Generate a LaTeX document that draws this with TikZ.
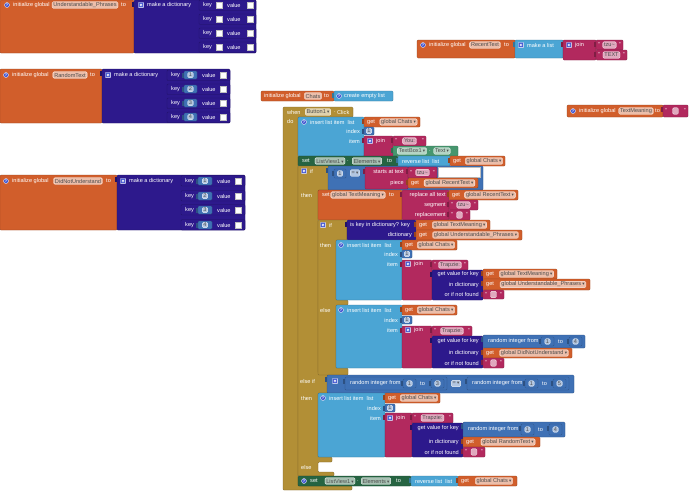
\documentclass[tikz,border=0pt]{standalone}
\usepackage{fontspec}
\setmainfont{Liberation Sans}
\newfontfamily\symfont{DejaVu Sans}

\definecolor{varc}{RGB}{209,94,43}
\definecolor{dictc}{RGB}{45,25,140}
\definecolor{listc}{RGB}{75,165,212}
\definecolor{textc}{RGB}{178,41,94}
\definecolor{ctrlc}{RGB}{178,143,54}
\definecolor{mathc}{RGB}{63,113,181}
\definecolor{setc}{RGB}{38,100,66}
\definecolor{compc}{RGB}{70,150,110}
\definecolor{iconc}{RGB}{70,90,210}

\newcommand{\blkfont}{\fontsize{5.6}{6.5}\selectfont}
\newcommand{\ddm}{\hspace{1.2pt}{\symfont\fontsize{4.5}{5}\selectfont\char"25BE}}

\tikzset{
  blk/.style={fill=#1, draw=#1!72!black, line width=0.35pt, rounded corners=1pt},
  txt/.style={text=white, font=\blkfont, inner sep=0pt, anchor=west},
  rtxt/.style={txt, anchor=east},
  fld/.style={font=\blkfont, text=black!70, fill=white, fill opacity=0.6, text opacity=1,
    draw=white, draw opacity=0.9, line width=0.3pt, rounded corners=1.3pt,
    inner xsep=1.4pt, inner ysep=0.5pt, minimum height=6.6pt},
  hole/.style={fill=white, draw=black!25, line width=0.3pt},
}

% value block with its plug on the left
\newcommand{\vblk}[5]{%
  \fill[#1!72!black] (#2-2.4,#3+2.2) rectangle (#2+0.3,#3+7.2);
  \draw[blk=#1] (#2,#3) rectangle (#4,#5);}
\newcommand{\qicon}[2]{%
  \filldraw[fill=iconc, draw=white, line width=0.3pt] (#1,#2) circle (2.5);
  \node[font=\fontsize{3.8}{4}\selectfont\bfseries, text=white, inner sep=0pt] at (#1,#2) {?};}
\newcommand{\gicon}[2]{%
  \filldraw[fill=iconc, draw=white, line width=0.3pt, rounded corners=0.6pt] (#1-2.6,#2-2.6) rectangle (#1+2.6,#2+2.6);
  \draw[white, line width=0.5pt] (#1,#2) circle (1.1);}
\newcommand{\getv}[5]{%
  \vblk{varc}{#1}{#2}{#3}{#4}
  \node[txt] at (#1+3,{(#2+#4)/2}) {get};
  \node[fld] at ({(#1+13+#3)/2},{(#2+#4)/2}) {#5\ddm};}
\newcommand{\strv}[5]{%
  \vblk{textc}{#1}{#2}{#3}{#4}
  \node[txt] at (#1+2,{(#2+#4)/2}) {"};
  \node[rtxt] at (#3-2,{(#2+#4)/2}) {"};
  \node[fld] at ({(#1+#3)/2},{(#2+#4)/2}) {#5};}
\newcommand{\numv}[5]{%
  \vblk{mathc}{#1}{#2}{#3}{#4}
  \node[fld, minimum height=5.6pt, inner xsep=1.2pt] at ({(#1+#3)/2},{(#2+#4)/2}) {#5};}
\newcommand{\randv}[5]{%
  \vblk{mathc}{#1}{#2}{#1+102}{#3}
  \node[txt] at (#1+5,{(#2+#3)/2}) {random integer from};
  \numv{#1+58}{#2+2}{#1+71}{#3-2}{#4}
  \node[txt] at (#1+75,{(#2+#3)/2}) {to};
  \numv{#1+86}{#2+2}{#1+99}{#3-2}{#5}}

\begin{document}
\begin{tikzpicture}[x=1pt,y=-1pt]
\useasboundingbox[fill=white] (0,0) rectangle (690,491);

% Understandable_Phrases
\draw[blk=varc] (0,0) rectangle (134,53);
\qicon{7}{5}
\node[txt] at (13,5) {initialize global};
\node[fld] at (85,5) {Understandable\_Phrases};
\node[txt] at (121,5) {to};
\vblk{dictc}{134}{0}{256}{53}
\gicon{141}{5}
\node[txt] at (147,5) {make a dictionary};
\foreach \y in {5,19,33,47}{
  \draw[blk=dictc] (199,\y-5) rectangle (256,\y+5.5);
  \node[txt] at (203,\y) {key};
  \draw[hole] (216,\y-3.2) rectangle (222,\y+3.2);
  \node[txt] at (227,\y) {value};
  \draw[hole] (247,\y-3.2) rectangle (253,\y+3.2);
}

% RandomText
\draw[blk=varc] (0,69) rectangle (102,123);
\qicon{6}{75}
\node[txt] at (12,75) {initialize global};
\node[fld] at (70,75) {RandomText};
\node[txt] at (90,75) {to};
\vblk{dictc}{102}{69}{230}{123}
\gicon{108}{75}
\node[txt] at (114,75) {make a dictionary};
\foreach \y/\k in {75/1,89/2,103/3,117/4}{
  \draw[blk=dictc] (167,\y-5) rectangle (230,\y+5.5);
  \node[txt] at (171,\y) {key};
  \numv{184}{\y-4}{197}{\y+4}{\k}
  \node[txt] at (202,\y) {value};
  \draw[hole] (220,\y-3.2) rectangle (226,\y+3.2);
}

% DidNotUnderstand
\draw[blk=varc] (0,175) rectangle (117,230);
\qicon{6}{181}
\node[txt] at (12,181) {initialize global};
\node[fld] at (78,181) {DidNotUnderstand};
\node[txt] at (106,181) {to};
\vblk{dictc}{117}{175}{245}{230}
\gicon{123}{181}
\node[txt] at (129,181) {make a dictionary};
\foreach \y/\k in {181/1,196/2,210/3,225/4}{
  \draw[blk=dictc] (181,\y-5.5) rectangle (245,\y+5);
  \node[txt] at (185,\y) {key};
  \numv{198}{\y-4}{212}{\y+4}{\k}
  \node[txt] at (217,\y) {value};
  \draw[hole] (235,\y-3.2) rectangle (241,\y+3.2);
}

% RecentText
\draw[blk=varc] (417,40) rectangle (515,58);
\qicon{423}{45}
\node[txt] at (429,45) {initialize global};
\node[fld] at (485,45) {RecentText};
\node[txt] at (504,45) {to};
\vblk{listc}{515}{40}{563}{58}
\gicon{521}{45}
\node[txt] at (527,45) {make a list};
\vblk{textc}{563}{40}{596}{60}
\gicon{569}{45}
\node[txt] at (575,45) {join};
\strv{596}{40}{623}{50}{tzu\textasciitilde}
\strv{596}{50}{627}{60}{TEXT}

% TextMeaning
\draw[blk=varc] (567,105) rectangle (663,117);
\qicon{573}{111}
\node[txt] at (579,111) {initialize global};
\node[fld] at (636,111) {TextMeaning};
\node[txt] at (655,111) {to};
\strv{663}{105}{688}{117}{\phantom{n}}

% Chats
\draw[blk=varc] (261,91) rectangle (334,101);
\node[txt] at (264,96) {initialize global};
\node[fld] at (313,96) {Chats};
\node[txt] at (324,96) {to};
\vblk{listc}{334}{91}{393}{101}
\qicon{339}{96}
\node[txt] at (344,96) {create empty list};

% when Button1.Click
\draw[blk=ctrlc] (283,107) -- (353,107) -- (353,117) -- (298,117) -- (298,486)
  -- (352,486) -- (352,490) -- (283,490) -- cycle;
\node[txt] at (287,112) {when};
\node[fld] at (318,112) {Button1\ddm};
\node[txt] at (334,112) {.};
\node[txt] at (337,112) {Click};
\node[txt] at (287,121) {do};

\draw[blk=listc] (298,117) rectangle (364,156);
\qicon{304}{122}
\node[txt] at (310,122) {insert list item \ list};
\node[rtxt] at (360,131) {index};
\node[rtxt] at (360,141) {item};
\getv{364}{117}{420}{127}{global Chats}
\numv{364}{127}{374}{135}{1}
\vblk{textc}{364}{136}{393}{157}
\gicon{370}{141}
\node[txt] at (376,141) {join};
\strv{393}{136}{426}{146}{You:}
\vblk{compc}{393}{146}{458}{156}
\node[fld] at (412,151) {TextBox1\ddm};
\node[txt] at (429,151) {.};
\node[fld] at (442,151) {Text\ddm};

\draw[blk=setc] (298,156) rectangle (398,166);
\node[txt] at (302,161) {set};
\node[fld] at (330,161) {ListView1\ddm};
\node[txt] at (347,161) {.};
\node[fld] at (367,161) {Elements\ddm};
\node[txt] at (387,161) {to};
\vblk{listc}{398}{156}{450}{166}
\node[txt] at (402,161) {reverse list \ list};
\getv{450}{156}{505}{166}{global Chats}

% if / else if / else
\draw[blk=ctrlc] (298,166) -- (330,166) -- (330,190) -- (318,190) -- (318,373) -- (330,373)
  -- (330,393) -- (318,393) -- (318,457) -- (332,457) -- (332,462) -- (318,462)
  -- (318,472) -- (334,472) -- (334,476) -- (298,476) -- cycle;
\gicon{304}{171}
\node[txt] at (310,171) {if};
\node[txt] at (301,195) {then};
\node[txt] at (300,381) {else if};
\node[txt] at (301,398) {then};
\node[txt] at (301,467) {else};

\vblk{mathc}{328}{166}{483}{190}
\numv{334}{169}{346}{178}{1}
\node[fld] at (355,173) {=\ddm};
\vblk{textc}{365}{167}{408}{189}
\node[rtxt] at (404,172) {starts at text};
\strv{408}{167}{437}{178}{tzu\textasciitilde}
\draw[hole] (438,167.5) rectangle (480,177.5);
\node[rtxt] at (404,183) {piece};
\getv{408}{178}{478}{188}{global RecentText}

\draw[blk=varc] (318,190) rectangle (402,220);
\node[txt] at (322,195) {set};
\node[fld] at (358,195) {global TextMeaning\ddm};
\node[txt] at (389,195) {to};
\vblk{textc}{402}{190}{449}{220}
\node[rtxt] at (446,195) {replace all text};
\node[rtxt] at (446,205) {segment};
\node[rtxt] at (446,215) {replacement};
\getv{449}{190}{518}{200}{global RecentText}
\strv{449}{200}{478}{210}{tzu\textasciitilde}
\strv{449}{210}{470}{220}{\phantom{n}}

% inner if / else
\draw[blk=ctrlc] (318,220) -- (347,220) -- (347,240) -- (336,240) -- (336,300) -- (348,300)
  -- (348,305) -- (336,305) -- (336,368) -- (348,368) -- (348,375) -- (318,375) -- cycle;
\gicon{323}{225}
\node[txt] at (329,225) {if};
\node[txt] at (320,245) {then};
\node[txt] at (320,310) {else};
\vblk{dictc}{347}{220}{416}{240}
\node[txt] at (350,225) {is key in dictionary? key};
\node[rtxt] at (412,235) {dictionary};
\getv{416}{220}{490}{230}{global TextMeaning}
\getv{416}{230}{522}{240}{global Understandable\_Phrases}

\draw[blk=listc] (336,240) rectangle (402,300);
\qicon{341}{245}
\node[txt] at (347,245) {insert list item \ list};
\node[rtxt] at (398,254) {index};
\node[rtxt] at (398,264) {item};
\getv{402}{240}{457}{250}{global Chats}
\numv{402}{250}{412}{258}{1}
\vblk{textc}{402}{260}{432}{300}
\gicon{408}{264}
\node[txt] at (414,264) {join};
\strv{432}{260}{468}{270}{Trapzie:}
\vblk{dictc}{432}{270}{483}{300}
\node[rtxt] at (479,274) {get value for key};
\node[rtxt] at (479,285) {in dictionary};
\node[rtxt] at (479,294) {or if not found};
\getv{483}{269}{557}{279}{global TextMeaning}
\getv{483}{279}{590}{290}{global Understandable\_Phrases}
\strv{483}{290}{504}{299}{\phantom{n}}

\draw[blk=listc] (336,305) rectangle (402,368);
\qicon{341}{310}
\node[txt] at (347,310) {insert list item \ list};
\node[rtxt] at (398,320) {index};
\node[rtxt] at (398,330) {item};
\getv{402}{305}{457}{315}{global Chats}
\numv{402}{316}{412}{324}{1}
\vblk{textc}{402}{326}{432}{368}
\gicon{408}{330}
\node[txt] at (414,330) {join};
\strv{432}{326}{472}{336}{Trapzie:}
\vblk{dictc}{432}{336}{483}{368}
\node[rtxt] at (479,341) {get value for key};
\node[rtxt] at (479,353) {in dictionary};
\node[rtxt] at (479,363) {or if not found};
\randv{483}{335}{348}{1}{4}
\getv{483}{348}{572}{358}{global DidNotUnderstand}
\strv{483}{358}{504}{368}{\phantom{n}}

% else if branch
\vblk{mathc}{327}{375}{574}{393}
\gicon{335}{381}
\randv{345}{377}{390}{1}{3}
\node[fld] at (456,383.5) {=\ddm};
\randv{467}{377}{390}{1}{5}

\draw[blk=listc] (318,393) rectangle (385,457);
\qicon{323}{398}
\node[txt] at (329,398) {insert list item \ list};
\node[rtxt] at (381,408) {index};
\node[rtxt] at (381,418) {item};
\getv{385}{393}{440}{403}{global Chats}
\numv{385}{404}{395}{412}{1}
\vblk{textc}{385}{413}{412}{457}
\gicon{390}{418}
\node[txt] at (396,418) {join};
\strv{412}{413}{453}{423}{Trapzie:}
\vblk{dictc}{412}{423}{463}{457}
\node[rtxt] at (459,428) {get value for key};
\node[rtxt] at (459,442) {in dictionary};
\node[rtxt] at (459,452) {or if not found};
\randv{463}{422}{437}{1}{4}
\getv{463}{437}{540}{447}{global RandomText}
\strv{463}{447}{485}{457}{\phantom{n}}

\draw[blk=setc] (298,476) rectangle (411,486);
\qicon{304}{481}
\node[txt] at (310,481) {set};
\node[fld] at (340,481) {ListView1\ddm};
\node[txt] at (357,481) {.};
\node[fld] at (376,481) {Elements\ddm};
\node[txt] at (396,481) {to};
\vblk{listc}{411}{476}{458}{486}
\node[txt] at (415,481) {reverse list \ list};
\getv{458}{476}{517}{486}{global Chats}
\end{tikzpicture}
\end{document}
